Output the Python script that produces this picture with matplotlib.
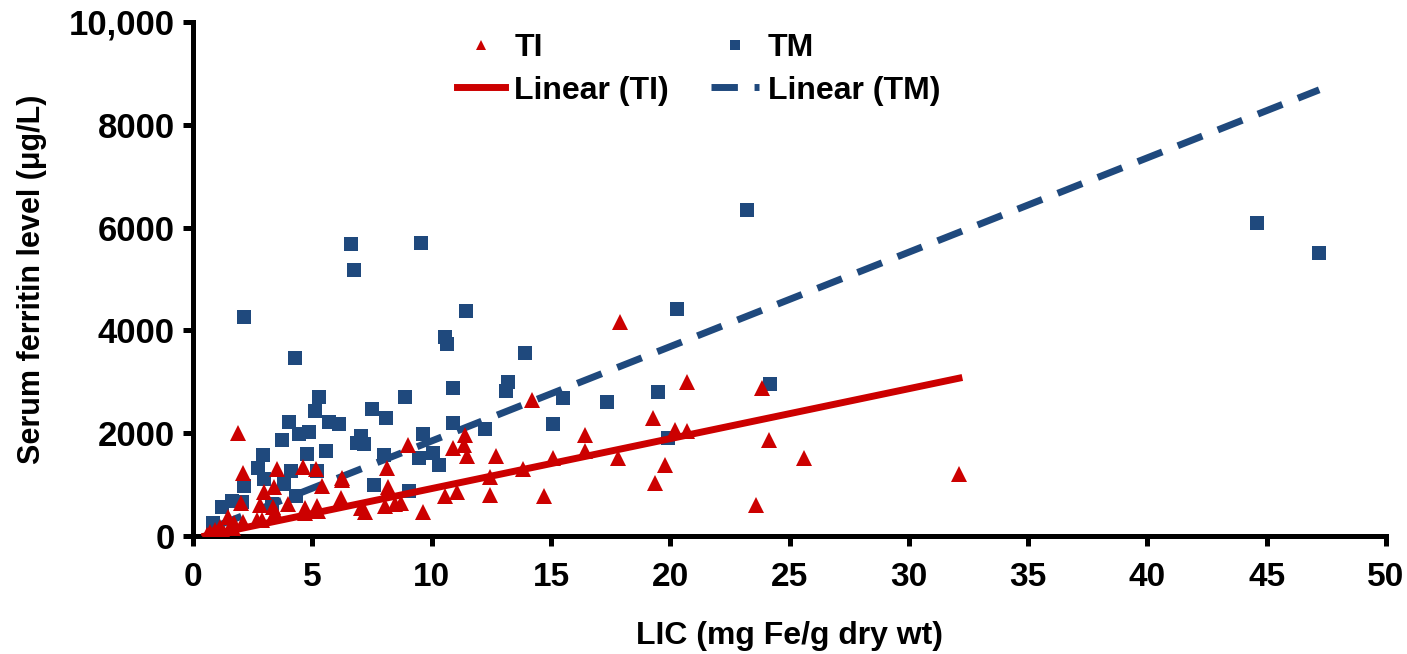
import matplotlib.pyplot as plt
import numpy as np

# TI (thalassemia intermedia) points: LIC (mg Fe/g dry wt) vs serum ferritin (ug/L)
ti_lic = [1.9, 2.1, 3.5, 4.6, 5.15, 3.4, 2.98, 5.4, 6.24, 2.0, 2.8, 3.35, 3.98, 4.69,
          5.2, 6.2, 1.47, 1.55, 2.1, 2.68, 2.9, 1.13, 0.71, 0.59, 1.68, 4.69, 5.24, 3.44,
          0.9, 1.3, 1.7,
          9.0, 11.4, 11.36, 10.9, 11.48, 12.7, 8.13, 8.17, 6.24, 12.45, 12.45, 10.56,
          11.06, 8.05, 8.47, 8.72, 7.04, 7.2, 9.64, 8.13,
          17.9, 14.2, 20.7, 23.85, 19.28, 16.43, 20.2, 20.7, 24.14, 25.6, 16.43, 15.09,
          17.8, 19.78, 13.83, 19.36, 23.6, 14.71, 32.1]
ti_ferritin = [2004, 1226, 1304, 1342, 1304, 953, 856, 973, 1089, 642, 603, 564, 623, 545,
               584, 739, 370, 175, 272, 311, 311, 175, 78, 19, 155, 447, 486, 467,
               120, 60, 250,
               1770, 1965, 1770, 1712, 1556, 1556, 1323, 953, 1128, 1148, 798, 778,
               856, 584, 623, 642, 545, 467, 467, 856,
               4163, 2646, 2996, 2879, 2296, 1965, 2062, 2043, 1868, 1518, 1654, 1518,
               1518, 1381, 1304, 1031, 603, 778, 1206]

# TM (thalassemia major) points
tm_lic = [5.28, 5.11, 4.02, 4.44, 4.86, 5.70, 6.12, 3.73, 2.93, 4.78, 5.57, 2.72, 4.11,
          5.20, 2.98, 2.14, 3.81, 4.32, 3.31, 1.22, 1.63, 2.05, 0.84, 6.87,
          6.62, 6.75, 9.56, 2.14, 4.27, 11.44, 10.56, 10.65, 10.9, 13.1, 13.2, 8.9, 7.5,
          8.1, 12.24, 10.9, 9.64, 7.05, 7.15, 10.06, 9.47, 10.3, 8.0, 7.59, 9.05,
          13.9, 15.5, 17.35, 19.5, 24.2, 20.3, 15.1, 19.9, 23.2, 44.6, 47.2]
tm_ferritin = [2704, 2432, 2218, 1984, 2023, 2218, 2179, 1868, 1576, 1595, 1654, 1323, 1265,
               1265, 1109, 973, 1012, 778, 623, 564, 681, 661, 253, 1809,
               5681, 5175, 5700, 4261, 3463, 4377, 3872, 3735, 2879, 2821, 2996, 2704, 2471,
               2296, 2082, 2198, 1984, 1950, 1790, 1615, 1518, 1381, 1576, 992, 875,
               3560, 2685, 2607, 2801, 2957, 4416, 2179, 1907, 6342, 6089, 5506]

# linear trend lines (end points)
ti_fit_x = [0.5, 32.1]
ti_fit_y = [0, 3070]
tm_fit_x = [1.0, 47.2]
tm_fit_y = [196, 8680]

red = '#CC0000'
blue = '#1F497D'

plt.rcParams['font.family'] = ['Liberation Sans', 'DejaVu Sans']
plt.rcParams['font.weight'] = 'bold'

fig = plt.figure(figsize=(14.07, 6.54), dpi=100)
ax = fig.add_axes([0.1372, 0.1804, 0.8479, 0.786])

ax.plot(tm_lic, tm_ferritin, 's', color=blue, markersize=10.5, markeredgewidth=0, label='TM', zorder=2)
ax.plot(ti_fit_x, ti_fit_y, '-', color=red, linewidth=5, label='Linear (TI)', zorder=3)
ax.plot(tm_fit_x, tm_fit_y, color=blue, linewidth=5, dashes=(3.8, 2.4), label='Linear (TM)', zorder=3)
ax.plot(ti_lic, ti_ferritin, '^', color=red, markersize=12, markeredgewidth=0, label='TI', zorder=4)

ax.set_xlim(0, 50)
ax.set_ylim(0, 10000)
ax.set_xticks(np.arange(0, 51, 5))
ax.set_yticks([0, 2000, 4000, 6000, 8000, 10000])
ax.set_yticklabels(['0', '2000', '4000', '6000', '8000', '10,000'])

for side in ['top', 'right']:
    ax.spines[side].set_visible(False)
for side in ['left', 'bottom']:
    ax.spines[side].set_linewidth(3.6)
ax.tick_params(axis='both', direction='out', length=7, width=3.6)
ax.tick_params(axis='x', pad=12, labelsize=24)
ax.tick_params(axis='y', pad=6, labelsize=25)

ax.set_xlabel('LIC (mg Fe/g dry wt)', fontsize=23, fontweight='bold', labelpad=20)
ax.set_ylabel('Serum ferritin level (μg/L)', fontsize=22, fontweight='bold', labelpad=16)

handles, labels = ax.get_legend_handles_labels()
order = [labels.index(n) for n in ['TI', 'Linear (TI)', 'TM', 'Linear (TM)']]
leg = ax.legend([handles[i] for i in order], [labels[i] for i in order], ncol=2,
                loc='upper left', bbox_to_anchor=(0.197, 1.035), frameon=False,
                fontsize=23, handlelength=1.5, handletextpad=0.3, columnspacing=1.3,
                labelspacing=0.4, markerscale=0.65)

fig.savefig('out.png', dpi=100)
